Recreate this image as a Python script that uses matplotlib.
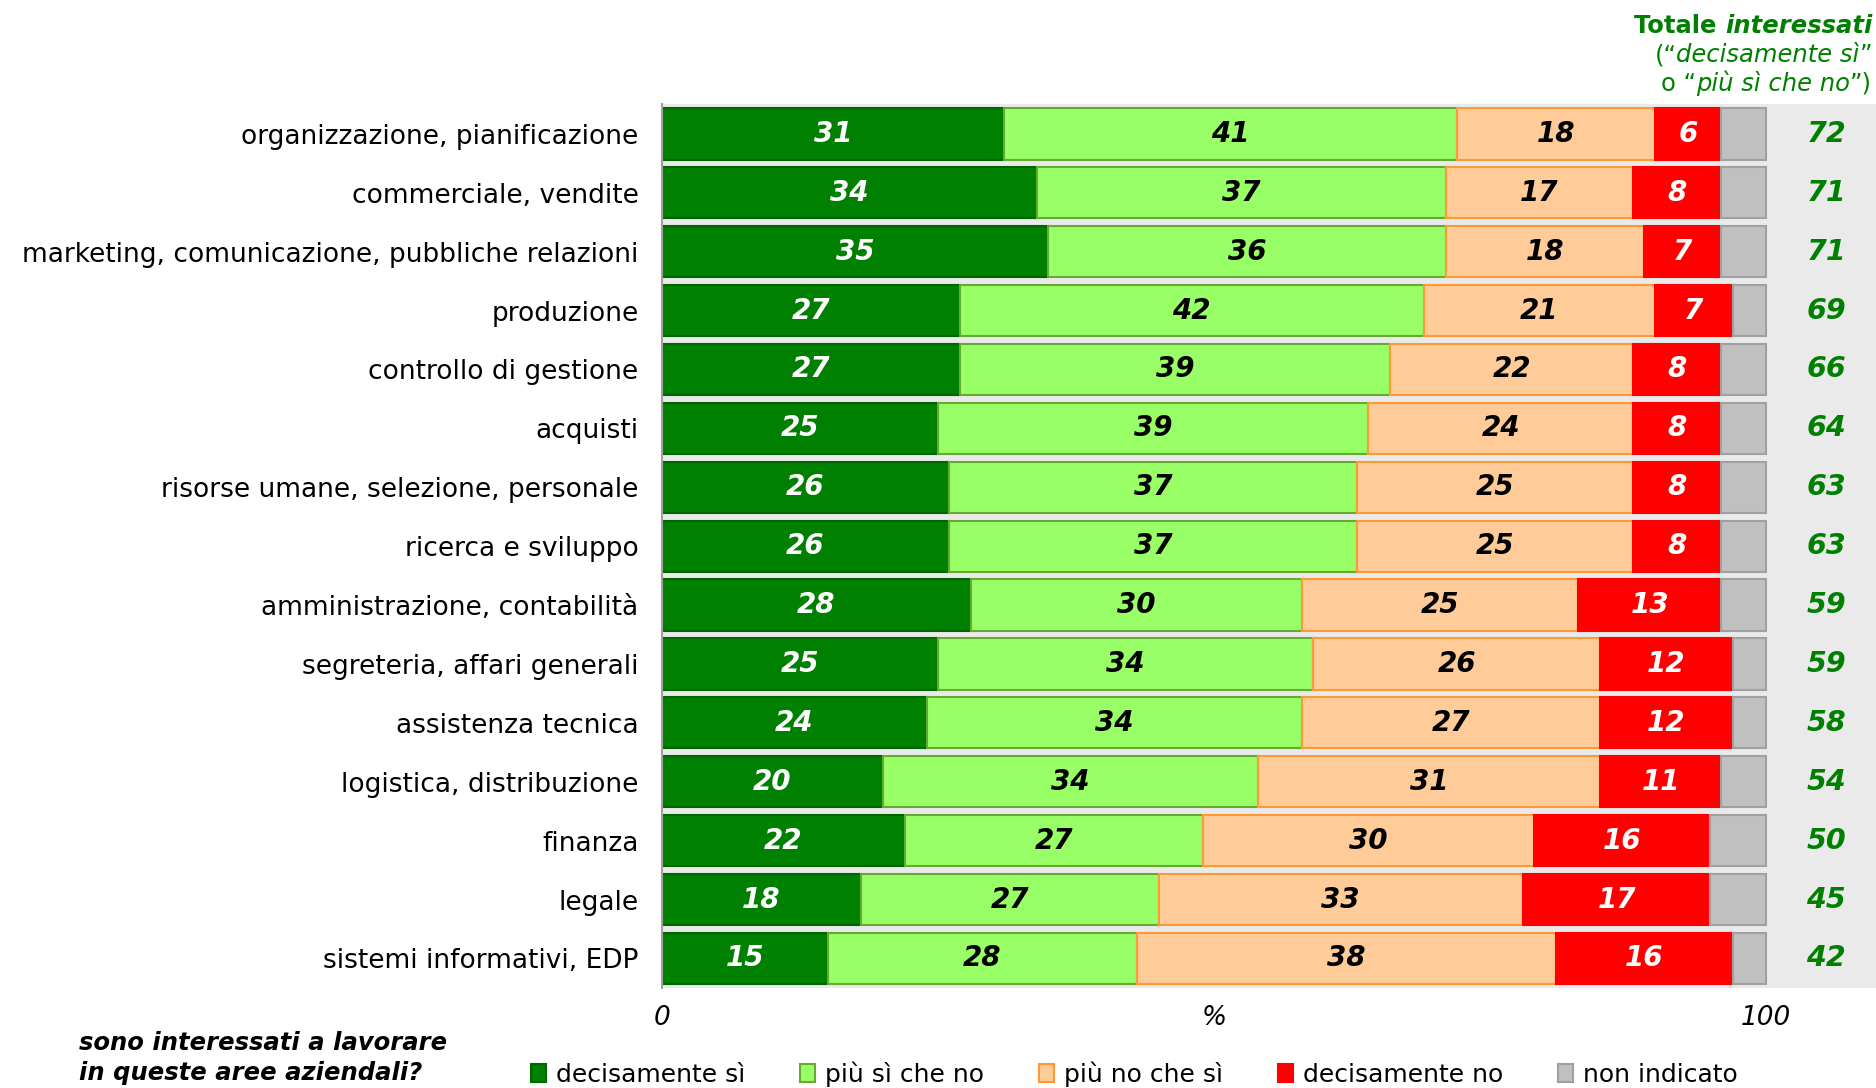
import matplotlib.pyplot as plt

categories = [
    "organizzazione, pianificazione",
    "commerciale, vendite",
    "marketing, comunicazione, pubbliche relazioni",
    "produzione",
    "controllo di gestione",
    "acquisti",
    "risorse umane, selezione, personale",
    "ricerca e sviluppo",
    "amministrazione, contabilità",
    "segreteria, affari generali",
    "assistenza tecnica",
    "logistica, distribuzione",
    "finanza",
    "legale",
    "sistemi informativi, EDP",
]
decisamente_si = [31, 34, 35, 27, 27, 25, 26, 26, 28, 25, 24, 20, 22, 18, 15]
piu_si_che_no = [41, 37, 36, 42, 39, 39, 37, 37, 30, 34, 34, 34, 27, 27, 28]
piu_no_che_si = [18, 17, 18, 21, 22, 24, 25, 25, 25, 26, 27, 31, 30, 33, 38]
decisamente_no = [6, 8, 7, 7, 8, 8, 8, 8, 13, 12, 12, 11, 16, 17, 16]
totale = [72, 71, 71, 69, 66, 64, 63, 63, 59, 59, 58, 54, 50, 45, 42]
# whatever is left up to 100 is "non indicato"
non_indicato = [100 - a - b - c - d for a, b, c, d in
                zip(decisamente_si, piu_si_che_no, piu_no_che_si, decisamente_no)]

series = [
    ("decisamente sì", decisamente_si, "#008000", "#006600", "white"),
    ("più sì che no", piu_si_che_no, "#99FF66", "#66AA33", "black"),
    ("più no che sì", piu_no_che_si, "#FFCC99", "#FF9933", "black"),
    ("decisamente no", decisamente_no, "#FF0000", "#FF0000", "white"),
    ("non indicato", non_indicato, "#C0C0C0", "#A0A0A0", None),
]

fig = plt.figure(figsize=(18.76, 10.88), dpi=100)
ax = fig.add_axes([662 / 1876, 0.092, 1 - 662 / 1876, 0.812])
ax.set_facecolor("#EAEAEA")

y = list(range(len(categories)))
left = [0] * len(categories)
handles = []
for name, vals, fc, ec, tc in series:
    b = ax.barh(y, vals, left=left, height=0.87, color=fc, edgecolor=ec,
                linewidth=1.5, label=name)
    handles.append(b)
    if tc:
        for yi, l, v in zip(y, left, vals):
            ax.text(l + v / 2, yi, str(v), ha="center", va="center",
                    color=tc, fontsize=20, fontweight="bold", style="italic")
    left = [l + v for l, v in zip(left, vals)]

for yi, t in zip(y, totale):
    ax.text(105.5, yi, str(t), ha="center", va="center", color="#008000",
            fontsize=20.5, fontweight="bold", style="italic")

ax.set_xlim(0, 110)
ax.set_ylim(len(categories) - 0.5, -0.5)
ax.set_yticks(y, categories, fontsize=19)
ax.set_xticks([0, 50, 100], ["0", "%", "100"], fontsize=19, style="italic")
ax.tick_params(axis="y", length=0, pad=17)
ax.tick_params(axis="x", length=0, pad=12)
for s in ["top", "right", "bottom"]:
    ax.spines[s].set_visible(False)
ax.spines["left"].set_color("#A0A0A0")
ax.spines["left"].set_linewidth(1.5)

# header over the totals column, mixed upright / italic pieces right-aligned
green = "#008000"
def chain(pieces, x, yy, size, weight="normal"):
    last = None
    for txt, it in reversed(pieces):
        kw = dict(color=green, fontsize=size, fontweight=weight,
                  style="italic" if it else "normal", ha="right", va="bottom")
        if last is None:
            last = fig.text(x, yy, txt, **kw)
        else:
            last = ax.annotate(txt, xy=(0, 0), xycoords=last,
                               annotation_clip=False, **kw)

chain([("Totale ", False), ("interessati", True)], 0.998, 1 - 38 / 1088, 17.5, "bold")
chain([("(“", False), ("decisamente sì", True), ("”", False)], 0.998, 1 - 67 / 1088, 17.5)
chain([("o “", False), ("più sì che no", True), ("”)", False)], 0.998, 1 - 96 / 1088, 17.5)

fig.text(79 / 1876, 1 - 1058 / 1088, "sono interessati a lavorare\nin queste aree aziendali?",
         fontsize=17.5, fontweight="bold", style="italic", va="center",
         linespacing=1.3)

fig.legend(handles=handles, loc="center left", bbox_to_anchor=(508 / 1876, 0.013),
           ncol=5, frameon=False, fontsize=18, handlelength=0.6, handleheight=0.7,
           handletextpad=0.4, columnspacing=2.2)

fig.savefig("out.png", dpi=100)
